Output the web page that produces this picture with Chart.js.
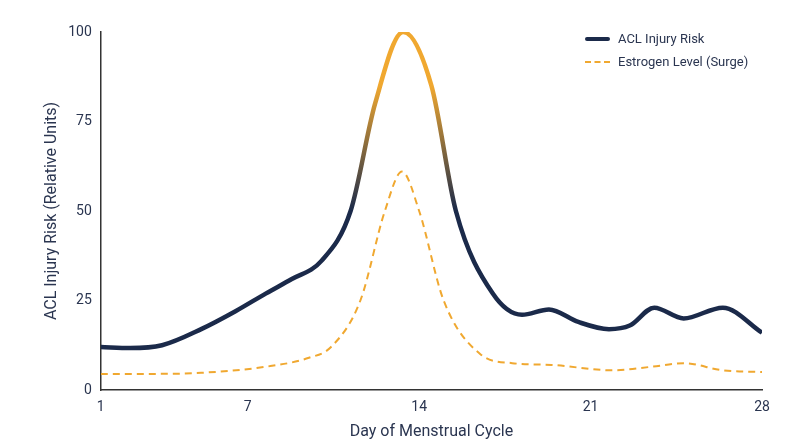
<!DOCTYPE html>
<html lang="en">
<head>
  <meta charset="UTF-8" />
  <title>ACL Injury Risk</title>
  <script src="https://cdn.jsdelivr.net/npm/chart.js"></script>
  <style>
    html, body { margin: 0; padding: 0; background: #fff; }
    .wrap { width: 800px; height: 447px; position: relative; }
    .legend { position: absolute; left: 585px; top: 27px; font-family: Roboto, sans-serif; font-size: 13px; color: #2a3550; }
    .legend div { display: flex; align-items: center; height: 23px; }
    .legend span.sw { display: inline-block; width: 25px; margin-right: 8px; }
  </style>
</head>
<body>
  <div class="wrap">
    <canvas id="cycleChart"></canvas>
    <div class="legend">
      <div><span class="sw" style="border-top: 4.5px solid #1b2a4a; border-radius: 3px;"></span>ACL Injury Risk</div>
      <div><span class="sw" style="border-top: 2px dashed #f0a830;"></span>Estrogen Level (Surge)</div>
    </div>
  </div>

  <script>
    const days = [1, 2.2, 3.5, 5.1, 6.5, 7.75, 8.8, 10, 11.2, 12.2, 13.35, 14.5, 15.5, 17, 18.2, 19.3, 20.5, 21.75, 22.6, 23.6, 24.8, 26.4, 28];
    const aclRisk = [12, 11.7, 12.5, 17, 22, 27, 31, 36, 50, 80, 100, 85, 50, 27, 21, 22.5, 19, 17, 18, 23, 20, 23, 16];

    const estrogenDays = [1, 3, 5.1, 7.75, 9.5, 10.4, 11.6, 12.6, 13.3, 14, 15, 16.5, 17.8, 19.4, 21.9, 23.5, 24.8, 26.4, 28];
    const estrogen = [4.5, 4.5, 4.8, 6.5, 9, 12, 25, 50, 61, 50, 25, 10, 7.5, 7, 5.5, 6.5, 7.5, 5.5, 5];

    const xTicks = [1, 7, 14, 21, 28];
    const yTicks = [0, 25, 50, 75, 100];

    const navy = '#1b2a4a';
    const orange = '#f0a830';
    const axisText = '#2a3550';

    function riskGradient(context) {
      const area = context.chart.chartArea;
      if (!area) return navy;
      const y = context.chart.scales.y;
      const g = context.chart.ctx.createLinearGradient(0, y.getPixelForValue(50), 0, y.getPixelForValue(85));
      g.addColorStop(0, navy);
      g.addColorStop(1, orange);
      return g;
    }

    new Chart(document.getElementById('cycleChart'), {
      type: 'line',
      data: {
        datasets: [{
          label: 'ACL Injury Risk',
          data: days.map((d, i) => ({ x: d, y: aclRisk[i] })),
          borderColor: riskGradient,
          borderWidth: 4.5,
          pointRadius: 0,
          cubicInterpolationMode: 'monotone',
          fill: false
        }, {
          label: 'Estrogen Level (Surge)',
          data: estrogenDays.map((d, i) => ({ x: d, y: estrogen[i] })),
          borderColor: orange,
          borderWidth: 2,
          borderDash: [7, 5],
          pointRadius: 0,
          cubicInterpolationMode: 'monotone',
          fill: false
        }]
      },
      options: {
        responsive: true,
        maintainAspectRatio: false,
        animation: false,
        layout: { padding: { left: 38, right: 38, top: 32, bottom: 1 } },
        plugins: {
          tooltip: { enabled: false },
          legend: { display: false }
        },
        scales: {
          x: {
            type: 'linear',
            min: 1,
            max: 28,
            afterBuildTicks: axis => { axis.ticks = xTicks.map(v => ({ value: v })); },
            grid: { display: false, tickLength: 6 },
            border: { color: '#333', width: 1.5 },
            ticks: { color: axisText, font: { family: 'Roboto', size: 14 } },
            title: { display: true, text: 'Day of Menstrual Cycle', color: axisText, font: { family: 'Roboto', size: 16 } }
          },
          y: {
            min: 0,
            max: 100,
            afterBuildTicks: axis => { axis.ticks = yTicks.map(v => ({ value: v })); },
            grid: { display: false, tickLength: 6 },
            border: { color: '#333', width: 1.5 },
            ticks: { color: axisText, font: { family: 'Roboto', size: 14 } },
            title: { display: true, text: 'ACL Injury Risk (Relative Units)', color: axisText, font: { family: 'Roboto', size: 16 } }
          }
        }
      }
    });
  </script>
</body>
</html>
